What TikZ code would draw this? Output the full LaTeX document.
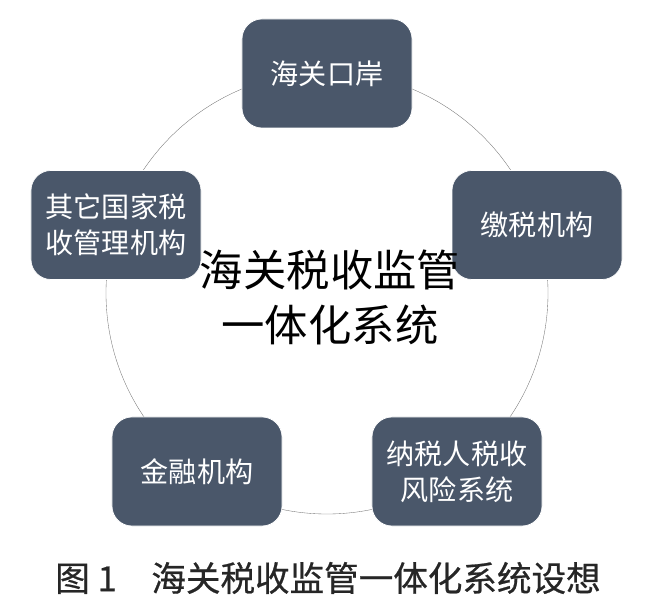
\documentclass[tikz,border=0pt]{standalone}
\usepackage{fontspec}
\setmainfont{Noto Sans CJK SC}
\newfontfamily\capfont[FakeBold=0.6]{Noto Sans CJK SC}
\definecolor{boxblue}{RGB}{74,87,106}
\tikzset{orgbox/.style={rectangle, rounded corners=0.6cm, fill=boxblue, draw=white, line width=0.6pt,
minimum width=5.1cm, minimum height=3.27cm, text=white, align=center,
font=\fontsize{24}{30.5}\selectfont}}
\begin{document}
\begin{tikzpicture}[x=0.03cm,y=-0.03cm]
\useasboundingbox (0,0) rectangle (666,601);
\draw[black!55, line width=0.3pt] (327,293) circle[radius=6.63cm];
\node[orgbox] (kouan) at (327,73.5) {海关口岸};
\node[orgbox] (jiaoshui) at (537,225) {缴税机构};
\node[orgbox] (fengxian) at (457,471.5) {纳税人税收\\风险系统};
\node[orgbox] (jinrong) at (197,471.5) {金融机构};
\node[orgbox] (qita) at (116,225) {其它国家税\\收管理机构};
\node[align=center, font=\fontsize{37}{47}\selectfont] (xitong) at (330,297.5) {海关税收监管\\一体化系统};
\node[font=\capfont\fontsize{29.5}{30}\selectfont, text=black!85] (tuming) at (328,578) {图 1　海关税收监管一体化系统设想};
\end{tikzpicture}
\end{document}
